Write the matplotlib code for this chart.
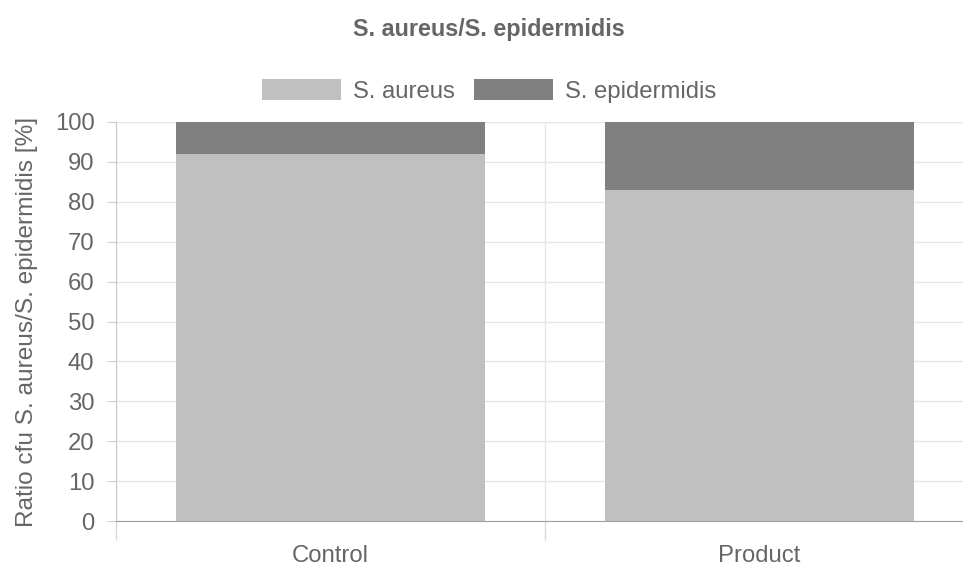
import matplotlib
matplotlib.use("Agg")
from matplotlib import pyplot as plt

categories = ["Control", "Product"]
aureus = [92, 83]
epidermidis = [8, 17]
series_names = ["S. aureus", "S. epidermidis"]
yticks = list(range(0, 101, 10))

plt.rcParams["font.family"] = ["Liberation Sans", "DejaVu Sans"]
txt = "#666666"
fs = 17.2

fig = plt.figure(figsize=(9.63, 5.67), dpi=100)
W, H = 963, 567
ax = fig.add_axes([116 / W, 1 - 521 / H, (974 - 116) / W, (521 - 122) / H])

x = list(range(len(categories)))
ax.bar(x, aureus, width=0.72, color="#c0c0c0", label=series_names[0], zorder=2)
ax.bar(x, epidermidis, width=0.72, bottom=aureus, color="#808080",
       label=series_names[1], zorder=2)

ax.set_xlim(-0.5, 1.5)
ax.set_ylim(0, 100)
ax.set_yticks(yticks)
ax.set_xticks(x)
ax.set_xticklabels(categories)
ax.set_xticks([-0.5, 0.5, 1.5], minor=True)

ax.tick_params(axis="x", which="major", length=0, pad=17.5, labelsize=fs, labelcolor=txt)
ax.tick_params(axis="x", which="minor", length=14, color="#d9d9d9", width=1)
ax.tick_params(axis="y", length=6.5, color="#d0d0d0", pad=9, labelsize=fs, labelcolor=txt)

ax.grid(axis="y", color="#e6e6e6", lw=1, zorder=0)
ax.grid(axis="x", which="minor", color="#e6e6e6", lw=1, zorder=0)
ax.set_axisbelow(True)

for s in ["top", "right"]:
    ax.spines[s].set_visible(False)
ax.spines["left"].set_color("#c8c8c8")
ax.spines["bottom"].set_color("#a0a0a0")

ax.set_ylabel("Ratio cfu S. aureus/S. epidermidis [%]", fontsize=17.6, color=txt, labelpad=12)

fig.text(489 / W, 1 - 29.5 / H, "S. aureus/S. epidermidis", ha="center", va="center",
         fontsize=16.8, fontweight="bold", color=txt)

fig.legend(loc="center", bbox_to_anchor=(489 / W, 1 - 91 / H), ncol=2, frameon=False,
           fontsize=fs, handlelength=3.3, handleheight=1.0, handletextpad=0.5,
           columnspacing=0.8, labelcolor=txt)

plt.savefig("out.png", dpi=100)
